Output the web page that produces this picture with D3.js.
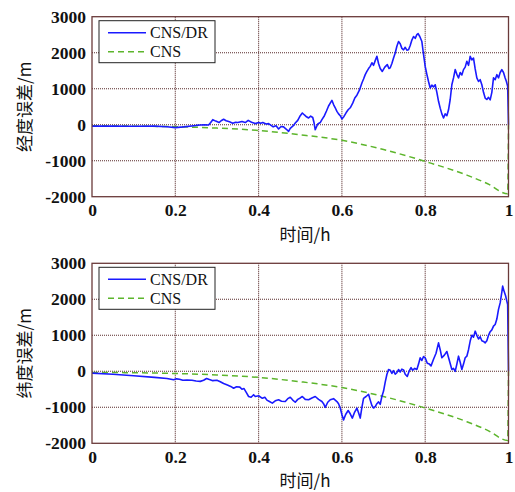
<!DOCTYPE html>
<html>
<head>
<meta charset="utf-8">
<script src="https://cdn.jsdelivr.net/npm/d3@7"></script>
<style>
  body { margin: 0; background: #fff; }
  svg text { font-family: "Liberation Serif", "Times New Roman", serif; }
</style>
</head>
<body>
<svg id="chart" width="515" height="492"></svg>
<script>
// data: [time h, error m]
var xTicks = [0, 0.2, 0.4, 0.6, 0.8, 1];
var yTicks = [-2000, -1000, 0, 1000, 2000, 3000];
var seriesNames = ["CNS/DR", "CNS"];

var lonDr = [[0, -40], [0.05, -40], [0.1, -45], [0.15, -40], [0.18, -55], [0.2, -80], [0.22, -60],
  [0.25, -20], [0.26, -10], [0.27, 0], [0.28, -10], [0.285, 60], [0.29, 140], [0.297, 100], [0.305, 60],
  [0.31, 110], [0.316, 150], [0.322, 110], [0.33, 80], [0.338, 40], [0.345, 70], [0.35, 60], [0.36, 90],
  [0.368, 60], [0.375, 120], [0.383, 70], [0.392, 30], [0.4, 60], [0.405, 40], [0.41, 60], [0.418, 20],
  [0.424, 30], [0.43, -20], [0.435, -60], [0.442, -30], [0.448, -120], [0.454, -50], [0.46, -60],
  [0.466, -120], [0.472, -185], [0.476, -100], [0.48, -60], [0.484, -20], [0.488, 45], [0.494, 120],
  [0.5, 250], [0.505, 325], [0.51, 270], [0.515, 220], [0.52, 185], [0.525, 240], [0.53, 200],
  [0.533, 60], [0.536, -140], [0.542, 20], [0.548, 60], [0.552, 140], [0.558, 250], [0.563, 380],
  [0.568, 520], [0.572, 600], [0.576, 675], [0.58, 560], [0.584, 470], [0.588, 370], [0.592, 300],
  [0.596, 250], [0.6, 160], [0.605, 230], [0.61, 330], [0.615, 415], [0.62, 470], [0.626, 600],
  [0.631, 740], [0.636, 820], [0.642, 960], [0.648, 1160], [0.652, 1270], [0.656, 1390], [0.66, 1480],
  [0.664, 1560], [0.668, 1620], [0.672, 1720], [0.676, 1650], [0.68, 1780], [0.684, 1900], [0.688, 1700],
  [0.692, 1560], [0.697, 1480], [0.703, 1600], [0.709, 1670], [0.713, 1560], [0.716, 1580], [0.72, 1700],
  [0.724, 1850], [0.728, 1990], [0.732, 2180], [0.736, 2310], [0.74, 2250], [0.744, 2120], [0.748, 2080],
  [0.752, 2150], [0.756, 2070], [0.76, 2080], [0.764, 2200], [0.768, 2350], [0.772, 2450], [0.776, 2400],
  [0.78, 2500], [0.783, 2530], [0.787, 2450], [0.792, 2310], [0.796, 1950], [0.8, 1620], [0.804, 1400],
  [0.808, 1200], [0.812, 1020], [0.816, 1100], [0.82, 1050], [0.824, 1110], [0.828, 900], [0.832, 650],
  [0.836, 460], [0.84, 300], [0.844, 185], [0.848, 300], [0.852, 250], [0.856, 415], [0.86, 700],
  [0.864, 1110], [0.868, 1300], [0.872, 1530], [0.876, 1400], [0.88, 1300], [0.884, 1450], [0.888, 1380],
  [0.892, 1530], [0.896, 1600], [0.9, 1760], [0.904, 1650], [0.908, 1900], [0.912, 1800], [0.916, 1850],
  [0.92, 1550], [0.924, 1300], [0.928, 1200], [0.932, 1250], [0.936, 1110], [0.94, 900], [0.944, 740],
  [0.948, 700], [0.952, 760], [0.956, 690], [0.96, 900], [0.964, 1300], [0.968, 1250], [0.972, 1390],
  [0.976, 1300], [0.98, 1450], [0.984, 1530], [0.988, 1450], [0.992, 1300], [0.995, 1200], [0.998, 1065],
  [1.0, 0]];

var lonCns = [[0, -30], [0.1, -40], [0.2, -55], [0.3, -95], [0.4, -160], [0.5, -280], [0.6, -435],
  [0.7, -690], [0.8, -1020], [0.9, -1400], [0.95, -1640], [0.998, -1920], [1.0, 0]];

var latDr = [[0, -50], [0.05, -80], [0.1, -125], [0.15, -170], [0.18, -200], [0.196, -235], [0.203, -210],
  [0.21, -220], [0.218, -250], [0.228, -240], [0.24, -250], [0.25, -270], [0.26, -280], [0.268, -250],
  [0.275, -200], [0.282, -230], [0.29, -260], [0.3, -250], [0.308, -290], [0.316, -340], [0.325, -380],
  [0.333, -420], [0.34, -470], [0.347, -430], [0.355, -440], [0.36, -500], [0.365, -480], [0.37, -580],
  [0.376, -700], [0.382, -720], [0.388, -650], [0.392, -700], [0.4, -680], [0.409, -750], [0.415, -720],
  [0.42, -800], [0.426, -840], [0.433, -885], [0.44, -820], [0.448, -790], [0.455, -830], [0.464, -840],
  [0.47, -760], [0.476, -720], [0.482, -800], [0.488, -860], [0.494, -780], [0.5, -740], [0.505, -700],
  [0.512, -780], [0.52, -790], [0.528, -740], [0.536, -700], [0.544, -780], [0.552, -840], [0.556, -900],
  [0.56, -1000], [0.566, -860], [0.572, -790], [0.58, -760], [0.588, -840], [0.592, -900], [0.596, -1020],
  [0.6, -1200], [0.604, -1350], [0.609, -1200], [0.615, -1090], [0.62, -1180], [0.625, -1300],
  [0.63, -1150], [0.636, -1020], [0.64, -1150], [0.644, -1300], [0.648, -1000], [0.652, -750],
  [0.658, -700], [0.664, -640], [0.668, -800], [0.672, -950], [0.676, -1020], [0.68, -980], [0.684, -900],
  [0.688, -850], [0.692, -920], [0.696, -700], [0.7, -550], [0.704, -300], [0.708, -90], [0.712, 50],
  [0.716, 30], [0.72, -60], [0.724, 20], [0.728, -80], [0.732, -40], [0.736, 50], [0.74, -20], [0.744, 60],
  [0.748, 40], [0.752, -80], [0.757, -145], [0.762, 20], [0.766, 100], [0.77, 30], [0.775, 80], [0.78, 50],
  [0.784, 200], [0.788, 375], [0.792, 300], [0.796, 410], [0.8, 375], [0.805, 225], [0.81, 200],
  [0.814, 150], [0.82, 335], [0.826, 500], [0.832, 790], [0.836, 600], [0.84, 375], [0.846, 450],
  [0.852, 550], [0.858, 300], [0.864, 50], [0.868, 80], [0.872, 0], [0.876, 200], [0.88, 420], [0.884, 250],
  [0.888, 50], [0.892, 200], [0.896, 375], [0.9, 420], [0.904, 600], [0.908, 840], [0.912, 1000],
  [0.916, 950], [0.92, 1115], [0.924, 1000], [0.928, 900], [0.932, 960], [0.936, 850], [0.94, 830],
  [0.944, 790], [0.948, 850], [0.952, 1000], [0.956, 1100], [0.96, 1150], [0.964, 1255], [0.968, 1300],
  [0.972, 1450], [0.976, 1720], [0.98, 1900], [0.984, 2200], [0.986, 2365], [0.99, 2200], [0.993, 2100],
  [0.996, 1950], [0.998, 1855], [1.0, 0]];

var latCns = [[0, -30], [0.1, -40], [0.2, -60], [0.3, -100], [0.4, -170], [0.5, -290], [0.6, -450],
  [0.7, -700], [0.8, -1020], [0.9, -1400], [0.95, -1640], [0.998, -1920], [1.0, 0]];

var panels = [
  { top: 16.7, label: "经度误差/m", dr: lonDr, cns: lonCns },
  { top: 263.3, label: "纬度误差/m", dr: latDr, cns: latCns }
];

var svg = d3.select("#chart");
var left = 92, right = 508.5, plotH = 180;
var serif = "'Liberation Serif', 'Times New Roman', serif";
var cjk = "'Noto Sans CJK SC', sans-serif";

var x = d3.scaleLinear().domain([0, 1]).range([left, right]);

panels.forEach(function(p) {
  var y = d3.scaleLinear().domain([-2000, 3000]).range([p.top + plotH, p.top]);
  var g = svg.append("g");

  // grid
  g.selectAll(".gx").data(xTicks.slice(1, -1)).enter().append("line")
    .attr("x1", function(d) { return x(d); }).attr("x2", function(d) { return x(d); })
    .attr("y1", p.top).attr("y2", p.top + plotH)
    .attr("stroke", "#5a2c2c").attr("stroke-width", 1.1).attr("stroke-dasharray", "1,1");
  g.selectAll(".gy").data(yTicks.slice(1, -1)).enter().append("line")
    .attr("x1", left).attr("x2", right)
    .attr("y1", function(d) { return y(d); }).attr("y2", function(d) { return y(d); })
    .attr("stroke", "#5a2c2c").attr("stroke-width", 1.1).attr("stroke-dasharray", "1,1");

  var line = d3.line()
    .x(function(d) { return x(d[0]); })
    .y(function(d) { return y(d[1]); });

  g.append("path").datum(p.cns)
    .attr("d", line.curve(d3.curveMonotoneX))
    .attr("fill", "none").attr("stroke", "#5db52c").attr("stroke-width", 1.5)
    .attr("stroke-dasharray", "6,4");
  g.append("path").datum(p.dr)
    .attr("d", line.curve(d3.curveLinear))
    .attr("fill", "none").attr("stroke", "#1a1aff").attr("stroke-width", 1.6)
    .attr("stroke-linejoin", "round");

  // frame
  g.append("rect")
    .attr("x", left).attr("y", p.top).attr("width", right - left).attr("height", plotH)
    .attr("fill", "none").attr("stroke", "#6a3a3a").attr("stroke-width", 1.3);

  // axes labels
  var yAxis = d3.axisLeft(y).tickValues(yTicks).tickSize(0).tickPadding(6)
    .tickFormat(function(d) { return String(d); });
  var ya = g.append("g").attr("transform", "translate(" + left + ",0)").call(yAxis)
    .attr("font-family", serif).attr("font-size", 17.5);
  ya.select(".domain").remove();
  ya.selectAll("text").attr("fill", "#111").style("font-family", serif).style("font-weight", "bold");

  var xAxis = d3.axisBottom(x).tickValues(xTicks).tickSize(0).tickPadding(7)
    .tickFormat(function(d) { return d === 0 || d === 1 ? String(d) : d.toFixed(1); });
  var xa = g.append("g").attr("transform", "translate(0," + (p.top + plotH) + ")").call(xAxis)
    .attr("font-family", serif).attr("font-size", 17.5);
  xa.select(".domain").remove();
  xa.selectAll("text").attr("fill", "#111").style("font-family", serif).style("font-weight", "bold");

  g.append("text")
    .attr("x", 305).attr("y", p.top + plotH + 44)
    .attr("text-anchor", "middle").attr("font-size", 17).attr("fill", "#111")
    .style("font-family", cjk)
    .text("时间/h");

  g.append("text")
    .attr("transform", "translate(31," + (p.top + plotH / 2) + ") rotate(-90)")
    .attr("text-anchor", "middle").attr("font-size", 17).attr("fill", "#111")
    .style("font-family", cjk)
    .text(p.label);

  // legend
  var lg = g.append("g").attr("transform", "translate(99," + (p.top + 4) + ")");
  lg.append("rect").attr("width", 116).attr("height", 42)
    .attr("fill", "#fff").attr("stroke", "#222").attr("stroke-width", 1);
  var styles = [
    { stroke: "#1a1aff", dash: null },
    { stroke: "#5db52c", dash: "6,4" }
  ];
  seriesNames.forEach(function(name, i) {
    var yy = 12 + i * 19;
    lg.append("line").attr("x1", 9).attr("x2", 47).attr("y1", yy).attr("y2", yy)
      .attr("stroke", styles[i].stroke).attr("stroke-width", 1.5)
      .attr("stroke-dasharray", styles[i].dash);
    lg.append("text").attr("x", 51).attr("y", yy + 5.5)
      .attr("font-size", 16).attr("fill", "#111").style("font-family", serif).text(name);
  });
});
</script>
</body>
</html>
